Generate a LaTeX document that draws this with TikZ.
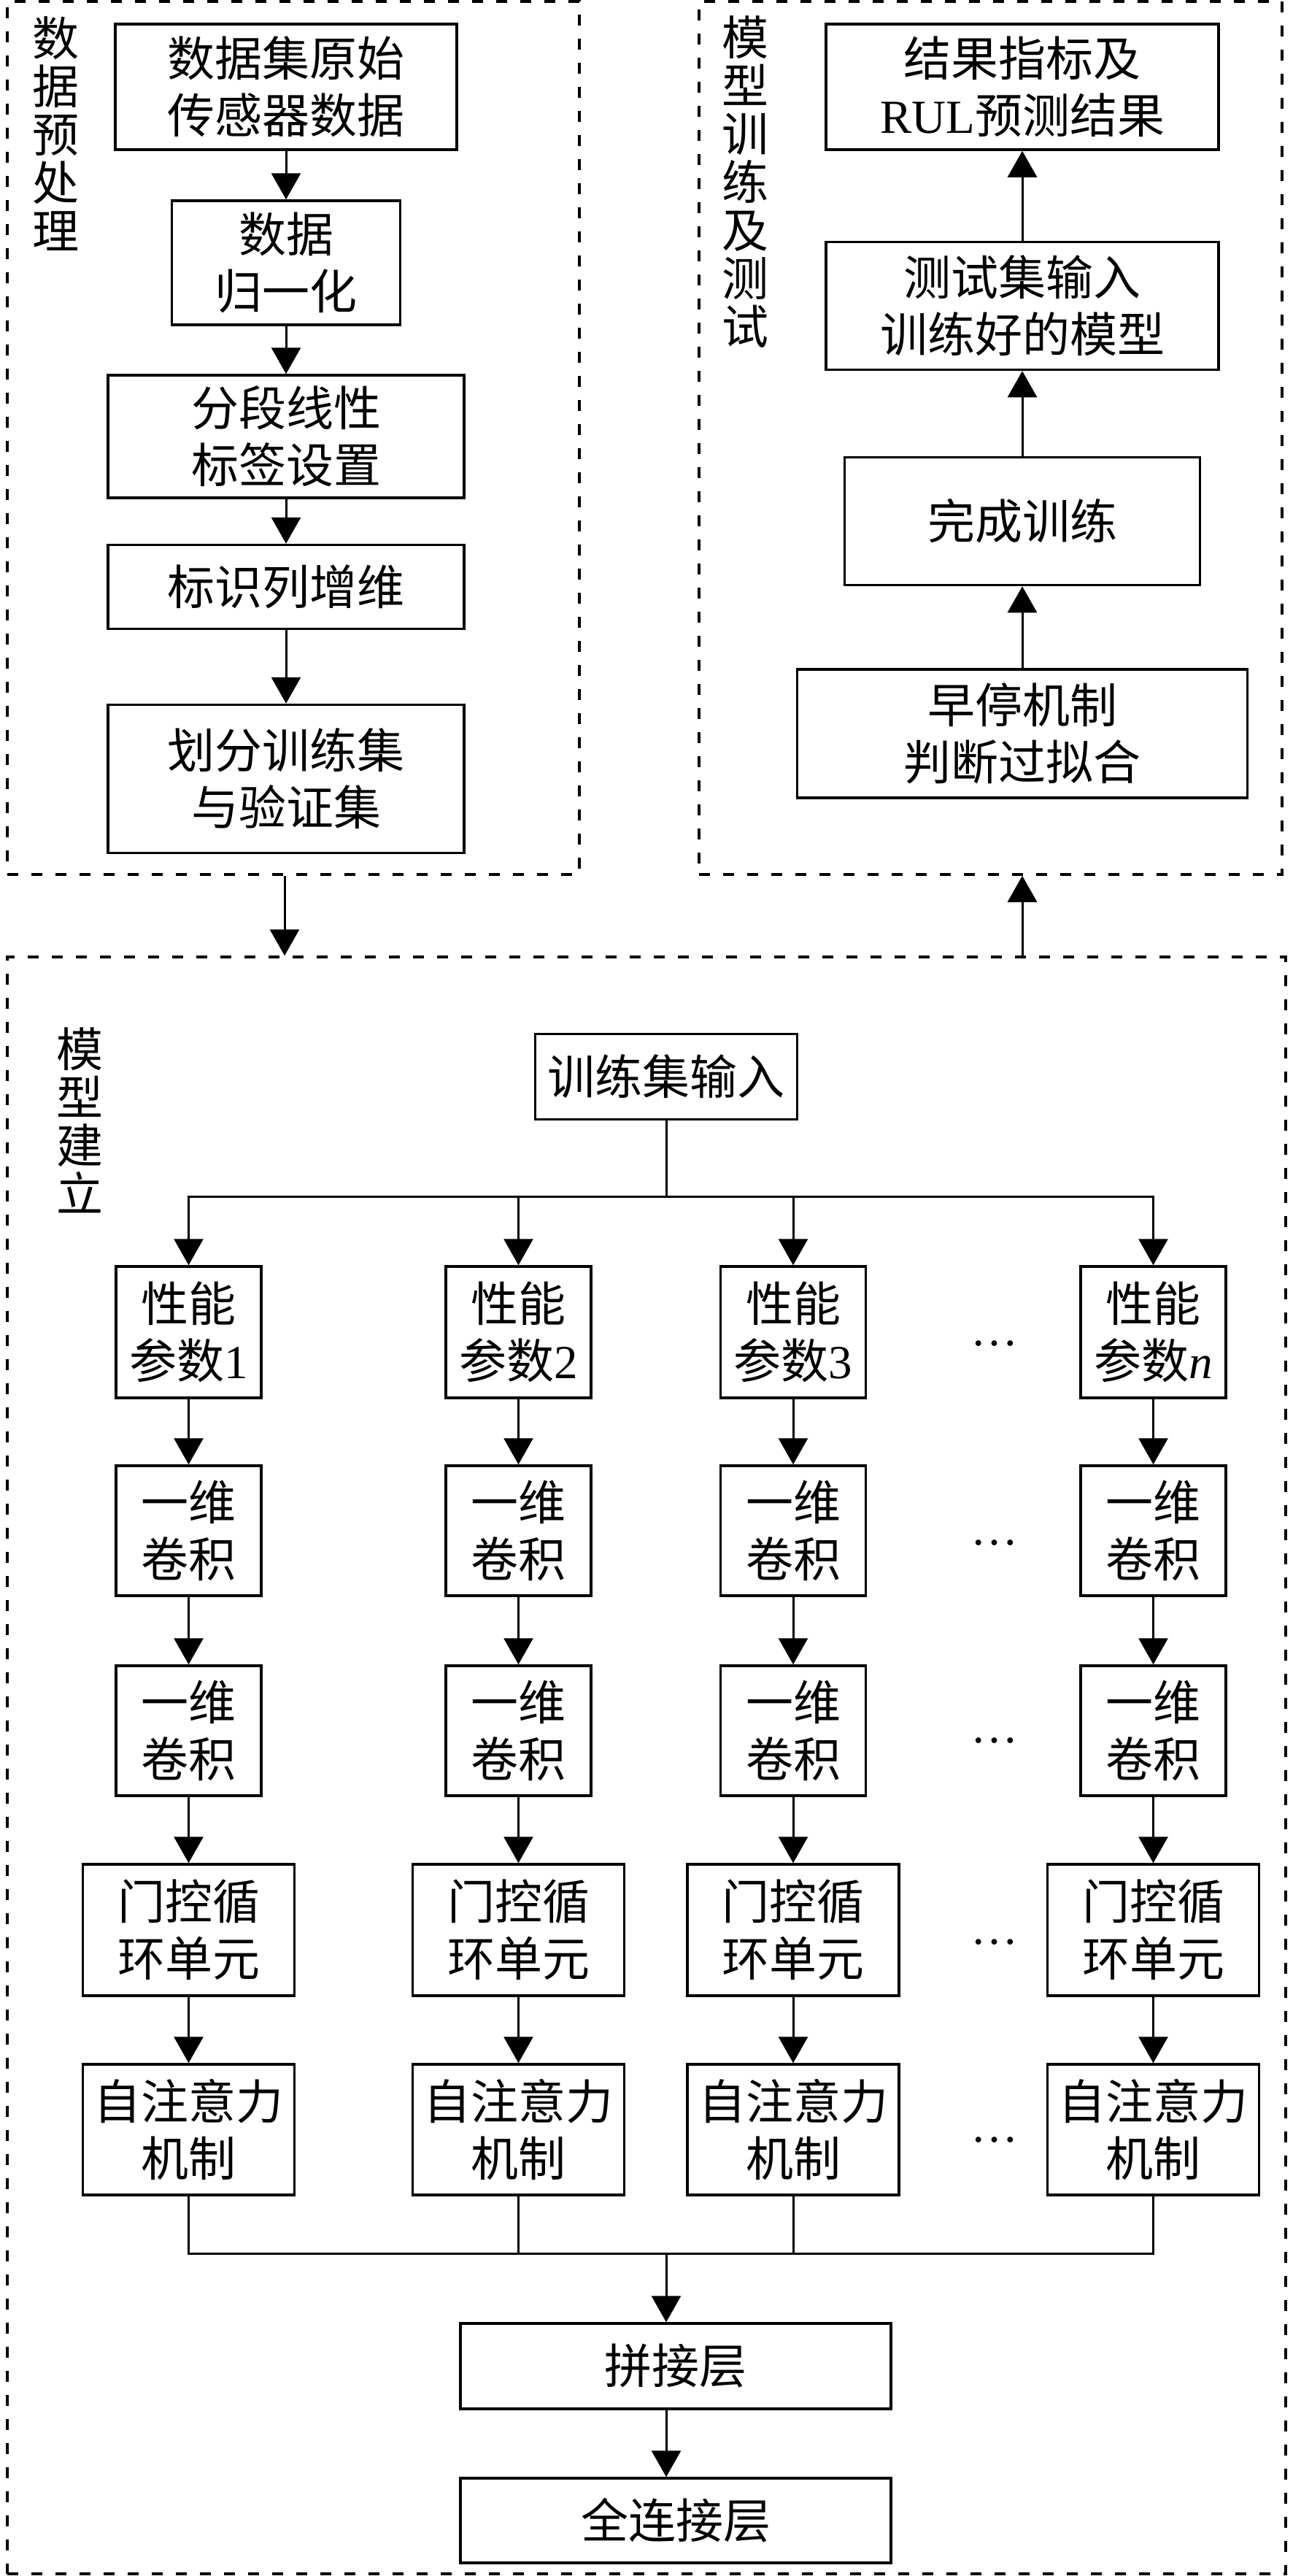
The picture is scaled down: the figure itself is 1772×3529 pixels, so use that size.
\documentclass[tikz,border=0pt]{standalone}
\usepackage{fontspec}
\setmainfont{Liberation Serif}
\newfontfamily\cjk{Noto Sans CJK SC}
\usetikzlibrary{arrows.meta,calc}
\begin{document}
\begin{tikzpicture}[x=1pt,y=-1pt,
  box/.style={draw,line width=3.5pt,inner sep=0pt,align=center,font=\cjk\fontsize{65pt}{78pt}\selectfont},
  frame/.style={draw,line width=3.5pt,dash pattern=on 15pt off 18pt,inner sep=0pt},
  lab/.style={align=center,inner sep=0pt,anchor=north,font=\cjk\fontsize{64pt}{66pt}\selectfont},
  arr/.style={line width=3pt,-{Triangle[length=36pt,width=40pt]}},
  ln/.style={line width=3pt,line cap=rect},
  dotsnode/.style={anchor=base,inner sep=0pt,font=\fontsize{65pt}{78pt}\selectfont}]
\useasboundingbox (0,0) rectangle (1772,3529);

% frames
\node[frame,minimum width=784pt,minimum height=1196pt] (F1) at (402,600) {};
\node[frame,minimum width=799pt,minimum height=1196pt] (F2) at (1357.5,600) {};
\node[frame,minimum width=1752pt,minimum height=2215pt] (F3) at (886,2418.5) {};

% frame labels
\node[lab] (L1) at (76,22) {数\\据\\预\\处\\理};
\node[lab] (L2) at (1021,22) {模\\型\\训\\练\\及\\测\\试};
\node[lab] (L3) at (109,1408) {模\\型\\建\\立};

% preprocessing
\node[box,minimum width=468pt,minimum height=172pt] (b1) at (392,119) {数据集原始\\传感器数据};
\node[box,minimum width=313pt,minimum height=170pt] (b2) at (392,360) {数据\\归一化};
\node[box,minimum width=488pt,minimum height=168pt] (b3) at (392,598) {分段线性\\标签设置};
\node[box,minimum width=488pt,minimum height=115pt] (b4) at (392,804) {标识列增维};
\node[box,minimum width=488pt,minimum height=203pt] (b5) at (392,1067) {划分训练集\\与验证集};
\draw[arr] (b1.south) -- (b2.north);
\draw[arr] (b2.south) -- (b3.north);
\draw[arr] (b3.south) -- (b4.north);
\draw[arr] (b4.south) -- (b5.north);

% training and testing
\node[box,minimum width=538pt,minimum height=172pt] (r1) at (1401,119) {结果指标及\\{\rmfamily RUL}预测结果};
\node[box,minimum width=538pt,minimum height=175pt] (r2) at (1401,419) {测试集输入\\训练好的模型};
\node[box,minimum width=487pt,minimum height=175pt] (r3) at (1401,714) {完成训练};
\node[box,minimum width=617pt,minimum height=176pt] (r4) at (1401,1005) {早停机制\\判断过拟合};
\draw[arr] (r4.north) -- (r3.south);
\draw[arr] (r3.north) -- (r2.south);
\draw[arr] (r2.north) -- (r1.south);

% between frames
\draw[arr] ($(b5.south |- F1.south)+(-2,0)$) -- ($(b5.south |- F3.north)+(-2,0)$);
\draw[arr] (r4.south |- F3.north) -- (r4.south |- F2.south);

% model building
\node[box,minimum width=359pt,minimum height=117pt] (in) at (913,1475) {训练集输入};
\coordinate (hb) at (913,1639);
\coordinate (mb) at (913,3087);

\foreach \i/\x/\t in {1/258.5/1,2/710.5/2,3/1087/3,4/1580.5/{\itshape n}}{
  \node[box,minimum width=199pt,minimum height=180pt] (p\i) at (\x,1825) {性能\\参数{\rmfamily\t}};
  \node[box,minimum width=199pt,minimum height=178pt] (k\i) at (\x,2097) {一维\\卷积};
  \node[box,minimum width=199pt,minimum height=178pt] (m\i) at (\x,2371) {一维\\卷积};
  \node[box,minimum width=290pt,minimum height=180pt] (g\i) at (\x,2644) {门控循\\环单元};
  \node[box,minimum width=290pt,minimum height=179pt] (s\i) at (\x,2917.5) {自注意力\\机制};
  \draw[arr] (p\i.north |- hb) -- (p\i.north);
  \draw[arr] (p\i.south) -- (k\i.north);
  \draw[arr] (k\i.south) -- (m\i.north);
  \draw[arr] (m\i.south) -- (g\i.north);
  \draw[arr] (g\i.south) -- (s\i.north);
  \draw[ln] (s\i.south) -- (s\i.south |- mb);
}
\draw[ln] (in.south) -- (hb);
\draw[ln] (p1.north |- hb) -- (p4.north |- hb);
\draw[ln] (s1.south |- mb) -- (s4.south |- mb);

\node[dotsnode] (d1) at (1363,1843) {…};
\node[dotsnode] (d2) at (1363,2116) {…};
\node[dotsnode] (d3) at (1363,2387) {…};
\node[dotsnode] (d4) at (1363,2663) {…};
\node[dotsnode] (d5) at (1363,2934) {…};

\node[box,minimum width=590pt,minimum height=117pt] (cat) at (926,3241.5) {拼接层};
\node[box,minimum width=590pt,minimum height=116pt] (fc) at (926,3453) {全连接层};
\draw[arr] (mb) -- (mb |- cat.north);
\draw[arr] (mb |- cat.south) -- (mb |- fc.north);
\end{tikzpicture}
\end{document}
